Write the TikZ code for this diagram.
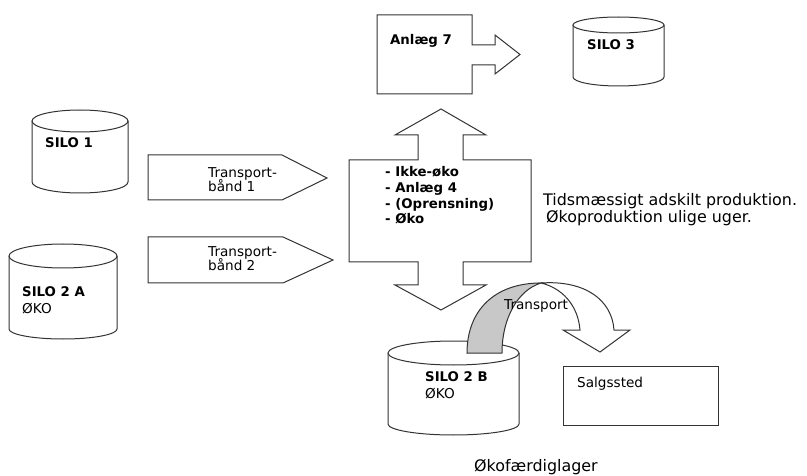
\documentclass[tikz,border=0pt]{standalone}
\usepackage{fontspec}
\setmainfont{DejaVu Sans}
\definecolor{arrowgray}{RGB}{200,200,200}
\tikzset{
  box/.style={draw=black!80,line width=1pt,fill=white,line join=miter},
  lbl/.style={anchor=base west,inner sep=0pt,font=\fontsize{13.6}{16}\selectfont},
  blbl/.style={lbl,font=\fontsize{13.3}{16}\selectfont\bfseries},
  biglbl/.style={lbl,font=\fontsize{15.9}{18}\selectfont},
}
\begin{document}
\begin{tikzpicture}[x=1pt,y=-1pt]
  \useasboundingbox (0,0) rectangle (807,476); % page size
  % silos
  \draw [box] (32,121) -- (32,182) arc (180:0:48 and 11) -- (128,121); % silo 1
  \draw [box] (80,121) ellipse (48 and 11);
  \draw [box] (9,256) -- (9,329) arc (180:0:54 and 10) -- (117,256); % silo 2 a
  \draw [box] (63,256) ellipse (54 and 12);
  \draw [box] (573,25) -- (573,77) arc (180:0:45.5 and 9) -- (664,25); % silo 3
  \draw [box] (618.5,25) ellipse (45.5 and 8);
  \draw [box] (388,353) -- (388,424) arc (180:0:65.5 and 11) -- (519,353); % silo 2 b
  \draw [box] (453.5,353) ellipse (65.5 and 12);
  % block arrows
  \draw [box] (148,155) -- (282,155) -- (327,178) -- (282,200) -- (148,200) -- cycle; % band 1
  \draw [box] (148,237) -- (283,237) -- (333,260) -- (283,283) -- (148,283) -- cycle; % band 2
  \draw [box] (377,15) -- (472,15) -- (472,45) -- (495,45) -- (495,35) -- (520,54.5)
    -- (495,74) -- (495,65) -- (472,65) -- (472,94) -- (377,94) -- cycle; % anlaeg 7
  \draw [box] (441,109) -- (486,135) -- (463,135) -- (463,160) -- (531,160) -- (531,262)
    -- (463,262) -- (463,285) -- (486,285) -- (441,310) -- (395,285) -- (418,285)
    -- (418,262) -- (349,262) -- (349,160) -- (418,160) -- (418,135) -- (395,135) -- cycle; % up and down
  \draw [box] (563,366) rectangle (718,425); % salgssted
  % curved transport arrow
  \draw [box] (541,283) .. controls (585,280) and (612,300) .. (614,330) -- (630,330) -- (600,352)
    -- (563,330) -- (580,330) .. controls (578,305) and (562,288) .. (541,283) -- cycle; % front
  \draw [box,fill=arrowgray] (467,353) .. controls (467,310) and (495,283) .. (541,283)
    .. controls (518,290) and (502,318) .. (502,353) -- cycle; % back
  % texts
  \node [blbl] (anl7) at (390,45) {Anlæg 7};
  \node [blbl] (silo3) at (587,50) {SILO 3};
  \node [blbl] (silo1) at (45,148) {SILO 1};
  \node [blbl] (silo2a) at (22,296) {SILO 2 A};
  \node [lbl] (oko2a) at (22,313) {ØKO};
  \node [lbl] (tb1a) at (208,178) {Transport-};
  \node [lbl] (tb1b) at (208,192) {bånd 1};
  \node [lbl] (tb2a) at (208,257) {Transport-};
  \node [lbl] (tb2b) at (208,271) {bånd 2};
  \node [blbl] (step1) at (385,177) {- Ikke-øko};
  \node [blbl] (step2) at (385,193) {- Anlæg 4};
  \node [blbl] (step3) at (385,209) {- (Oprensning)};
  \node [blbl] (step4) at (385,224) {- Øko};
  \node [biglbl] (tid) at (543,206) {Tidsmæssigt adskilt produktion.};
  \node [biglbl] (uger) at (546,223) {Økoproduktion ulige uger.};
  \node [lbl] (transp) at (504,309) {Transport};
  \node [blbl] (silo2b) at (425,381) {SILO 2 B};
  \node [lbl] (oko2b) at (425,398) {ØKO};
  \node [lbl] (salg) at (577,387) {Salgssted};
  \node [biglbl] (lager) at (474,471.5) {Økofærdiglager};
\end{tikzpicture}
\end{document}
